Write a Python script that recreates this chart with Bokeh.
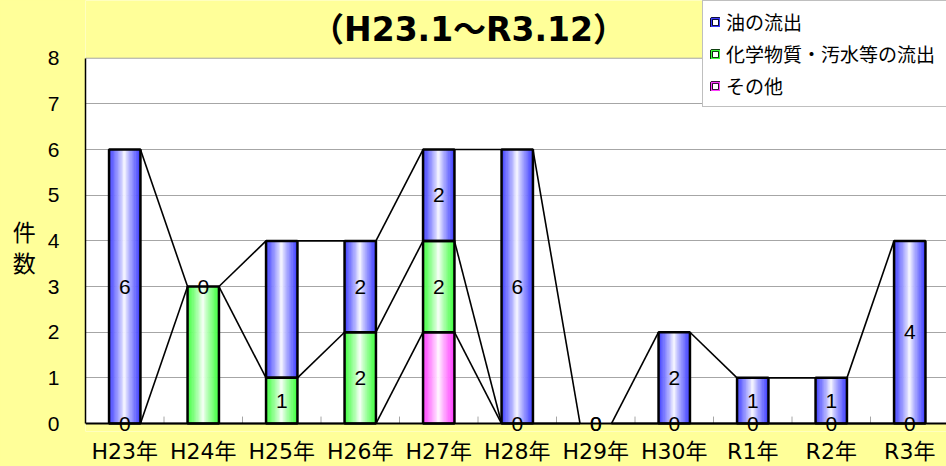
from bokeh.plotting import figure
from bokeh.models import (Range1d, FixedTicker, Label, LabelSet, Legend, LegendItem,
                          ColumnDataSource, GlobalInlineStyleSheet)
from bokeh.embed import file_html
from bokeh.resources import INLINE
from bokeh.core.properties import value

# ---------------- data ----------------
categories = ["H23年", "H24年", "H25年", "H26年", "H27年", "H28年",
              "H29年", "H30年", "R1年", "R2年", "R3年"]
oil = [6, 0, 3, 2, 2, 6, 0, 2, 1, 1, 4]          # 油の流出
chem = [0, 3, 1, 2, 2, 0, 0, 0, 0, 0, 0]         # 化学物質・汚水等の流出
other = [0, 0, 0, 0, 2, 0, 0, 0, 0, 0, 0]        # その他
oil_labels = ["6", "0", "", "2", "2", "6", "0", "2", "1", "1", "4"]
chem_labels = ["0", "", "1", "2", "2", "0", "0", "0", "0", "0", "0"]
other_labels = ["", "", "", "", "", "", "", "", "", "", ""]
series_names = ["油の流出", "化学物質・汚水等の流出", "その他"]
y_ticks = [0, 1, 2, 3, 4, 5, 6, 7, 8]
title_text = "（H23.1～R3.12）"
y_title = "\n\n件\n数"

# ---------------- style / layout ----------------
BG = "#FFFF99"
GRID = "#A6A6A6"
OIL_RGB = (60, 60, 255)
CHEM_RGB = (60, 255, 60)
OTHER_RGB = (255, 60, 255)
CJK = "Noto Sans CJK JP"
NUM = "Liberation Sans"
WIDE = "'DejaVu Sans', 'Noto Sans CJK JP'"
BAR_W = 0.4
STRIPS = 24
PX = 45.875                      # pixels per y unit
Y_LO = -8 / PX                   # small yellow strip below the axis
Y_HI = 8 + 58 / PX               # yellow band above the plot area
X_LO, X_HI = -0.5, 10.468

idx = list(range(len(categories)))

p = figure(width=946, height=466, output_backend="svg", toolbar_location=None,
           x_range=Range1d(X_LO, X_HI), y_range=Range1d(Y_LO, Y_HI),
           min_border_left=85, min_border_right=0, min_border_top=0, min_border_bottom=33,
           background_fill_color="white", border_fill_color=BG)
p.stylesheets = [GlobalInlineStyleSheet(css="html, body { background-color: #FFFF99; }")]
p.outline_line_color = None

p.xgrid.grid_line_color = None
p.ygrid.ticker = FixedTicker(ticks=y_ticks[:-1])
p.ygrid.grid_line_color = GRID
p.ygrid.grid_line_width = 1

ya = p.yaxis[0]
ya.ticker = FixedTicker(ticks=y_ticks)
ya.bounds = (0, 8)
ya.major_tick_line_color = None
ya.minor_tick_line_color = None
ya.axis_line_color = "black"
ya.axis_line_width = 1.5
ya.major_label_text_font = NUM
ya.major_label_text_font_size = "21px"
ya.major_label_text_color = "black"
ya.major_label_standoff = 20
ya.axis_label = y_title
ya.axis_label_text_font = CJK
ya.axis_label_text_font_size = "23px"
ya.axis_label_text_font_style = "normal"
ya.axis_label_text_color = "black"
ya.axis_label_text_line_height = 0.9
ya.axis_label_standoff = 9
try:
    ya.axis_label_orientation = "horizontal"
except Exception:
    pass

xa = p.xaxis[0]
xa.ticker = FixedTicker(ticks=idx)
xa.major_label_overrides = {i: c for i, c in zip(idx, categories)}
xa.major_tick_line_color = None
xa.minor_tick_line_color = None
xa.axis_line_color = None
xa.major_label_text_font = WIDE
xa.major_label_text_font_size = "22px"
xa.major_label_text_color = "black"
xa.major_label_standoff = 1

# yellow bands outside the plotting area (above 8 and below 0)
p.quad(left=[X_LO, X_LO], right=[X_HI, X_HI], bottom=[8, Y_LO], top=[Y_HI, 0],
       fill_color=BG, line_color=None, level="underlay")
# top border of plotting area
p.segment(x0=[X_LO], y0=[8], x1=[X_HI], y1=[8], line_color=GRID, line_width=1)
# category boundary ticks on the x axis
bounds_x = [i + 0.5 for i in idx[:-1]]
p.segment(x0=bounds_x, y0=[0] * len(bounds_x), x1=bounds_x, y1=[7 / PX] * len(bounds_x),
          line_color=GRID, line_width=1)


def shade(rgb, u):
    d = abs(2 * u - 1) ** 0.8
    r, g, b = (int(round(255 + (c - 255) * d)) for c in rgb)
    return "#%02x%02x%02x" % (r, g, b)


stack = [(other, other_labels, OTHER_RGB), (chem, chem_labels, CHEM_RGB), (oil, oil_labels, OIL_RGB)]
bottoms = [0] * len(idx)
seg = dict(x0=[], y0=[], x1=[], y1=[])
outline = dict(x=[], bottom=[], top=[])
lab = dict(x=[], y=[], text=[])
for vals, labels, rgb in stack:
    tops = [b + v for b, v in zip(bottoms, vals)]
    xs, bs, ts, cs = [], [], [], []
    for i in idx:
        if vals[i] > 0:
            for k in range(STRIPS):
                u = (k + 0.5) / STRIPS
                xs.append(i - BAR_W / 2 + u * BAR_W)
                bs.append(bottoms[i])
                ts.append(tops[i])
                cs.append(shade(rgb, u))
            outline["x"].append(i)
            outline["bottom"].append(bottoms[i])
            outline["top"].append(tops[i])
        if labels[i]:
            lab["x"].append(i)
            lab["y"].append((bottoms[i] + tops[i]) / 2)
            lab["text"].append(labels[i])
    p.vbar(x=xs, width=BAR_W / STRIPS, bottom=bs, top=ts, fill_color=cs,
           line_color=cs, line_width=0.7)
    for i in idx[:-1]:
        seg["x0"].append(i + BAR_W / 2)
        seg["y0"].append(tops[i])
        seg["x1"].append(i + 1 - BAR_W / 2)
        seg["y1"].append(tops[i + 1])
    bottoms = tops

p.segment(x0="x0", y0="y0", x1="x1", y1="y1", source=ColumnDataSource(seg),
          line_color="black", line_width=1.6)
p.vbar(x="x", width=BAR_W, bottom="bottom", top="top", source=ColumnDataSource(outline),
       fill_color=None, line_color="black", line_width=2.5)
# x axis line
p.segment(x0=[X_LO], y0=[0], x1=[X_HI], y1=[0], line_color="black", line_width=2)

p.add_layout(LabelSet(x="x", y="y", text="text", source=ColumnDataSource(lab),
                      text_align="center", text_baseline="middle",
                      text_font=value(NUM), text_font_size=value("21px"),
                      text_color="black"))

# title
p.add_layout(Label(x=383, y=402, x_units="screen", y_units="screen", text=title_text,
                   text_font=WIDE, text_font_style="bold", text_font_size="33px",
                   text_align="center", text_baseline="middle", text_color="black"))

# legend (swatches are placed outside the visible x range)
items = []
for name, rgb in zip(series_names, [OIL_RGB, CHEM_RGB, OTHER_RGB]):
    col = "#%02x%02x%02x" % rgb
    r1 = p.quad(left=[-20], right=[-19], top=[-20], bottom=[-21], fill_color="white",
                line_color="black", line_width=3)
    r2 = p.quad(left=[-20], right=[-19], top=[-20], bottom=[-21], fill_color=None,
                line_color=col, line_width=1.3)
    items.append(LegendItem(label=name, renderers=[r1, r2]))
legend = Legend(items=items, location=(617, 324), orientation="vertical",
                label_text_font=CJK, label_text_font_size="19px", label_text_color="black",
                glyph_width=10, glyph_height=10, label_standoff=6, label_height=23,
                label_width=228, padding=7, spacing=5, margin=0,
                border_line_color="#808080", border_line_width=1,
                background_fill_color="white", background_fill_alpha=1)
p.add_layout(legend, "center")

open("out.html", "w").write(file_html(p, INLINE))
